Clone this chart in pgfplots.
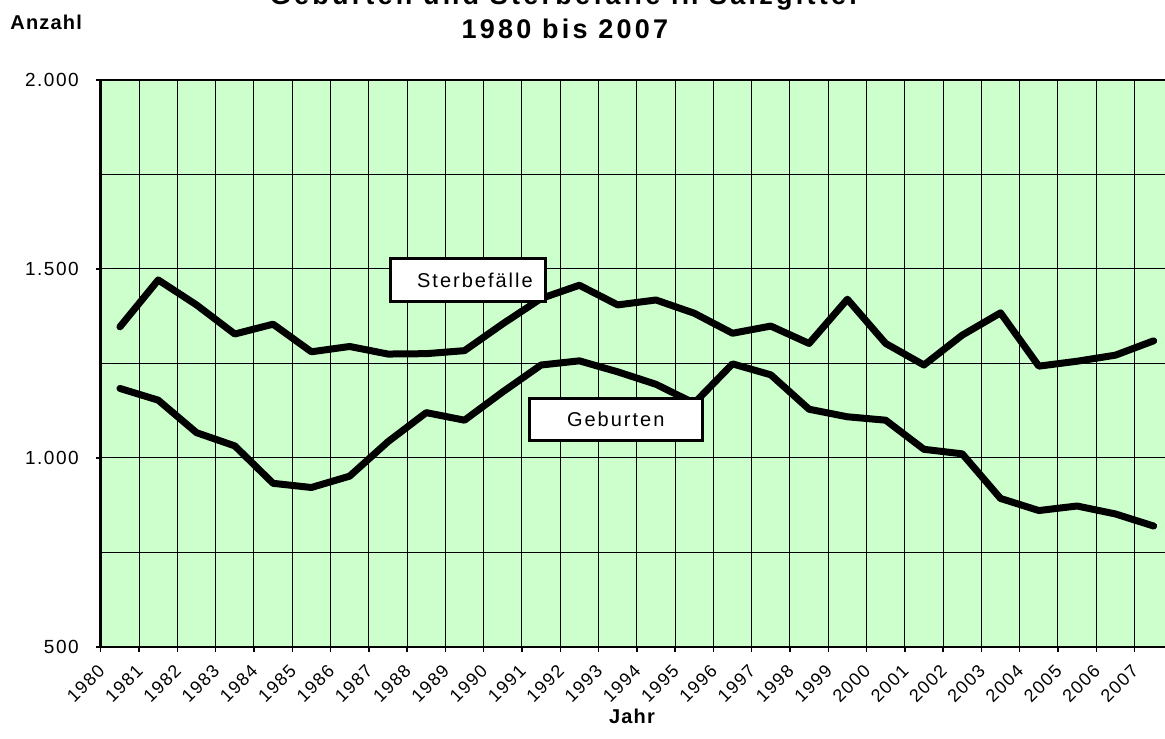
\documentclass[border=0pt]{standalone}
\usepackage{fontspec}
\setmainfont{Liberation Sans}
\newfontfamily\tickfont{Liberation Sans}[LetterSpace=8]
\newfontfamily\boxfont{Liberation Sans}[LetterSpace=10]
\newfontfamily\labelfont{Liberation Sans}[LetterSpace=6]
\newfontfamily\titlefont{Liberation Sans}[LetterSpace=12]
\usepackage{pgfplots}
\usepackage{pgfplotstable}
\pgfplotsset{compat=1.18}
\definecolor{plotbg}{HTML}{CCFFCC}

\pgfplotstableread{
x    ster  geb
0.5  1347  1184
1.5  1471  1153
2.5  1405  1067
3.5  1328  1032
4.5  1354   933
5.5  1281   922
6.5  1295   952
7.5  1275  1043
8.5  1276  1120
9.5  1284  1100
10.5 1355  1175
11.5 1422  1246
12.5 1457  1257
13.5 1405  1228
14.5 1418  1195
15.5 1383  1145
16.5 1330  1249
17.5 1349  1220
18.5 1303  1129
19.5 1420  1109
20.5 1303  1100
21.5 1246  1023
22.5 1325  1011
23.5 1384   893
24.5 1243   861
25.5 1256   873
26.5 1272   852
27.5 1310   820
}\datatable

\begin{document}
\begin{tikzpicture}
\begin{axis}[
  scale only axis,
  width=536pt, height=283.5pt,
  xmin=0, xmax=28, ymin=500, ymax=2000,
  axis background/.style={fill=plotbg},
  xtick={0,...,27},
  xticklabels={1980,1981,1982,1983,1984,1985,1986,1987,1988,1989,1990,1991,1992,1993,1994,1995,1996,1997,1998,1999,2000,2001,2002,2003,2004,2005,2006,2007},
  ytick={500,1000,1500,2000},
  minor ytick={750,1250,1750},
  grid=both,
  major grid style={black, line width=0.5pt},
  minor grid style={black, line width=0.5pt},
  minor tick length=0pt,
  major tick length=2.5pt,
  tick align=outside,
  tick pos=left,
  tick style={black, line width=0.7pt},
  axis line style={line width=1.3pt},
  /pgf/number format/1000 sep={.},
  /pgf/number format/assume math mode=true,
  yticklabel style={font=\tickfont\fontsize{9.5}{11}\selectfont, xshift=-5pt},
  xticklabel shift=4pt,
  xticklabel style={font=\tickfont\fontsize{9}{10}\selectfont, xshift=-2pt, rotate=45, anchor=north east, inner sep=1pt},
]
\addplot[black, line width=3.5pt, line join=round, line cap=round] table[x=x, y=ster] {\datatable};
\addplot[black, line width=3.5pt, line join=round, line cap=round] table[x=x, y=geb] {\datatable};
\node[draw=black, line width=1.5pt, fill=white, minimum width=77.5pt, minimum height=21.5pt, inner sep=0pt, font=\boxfont\fontsize{10}{11}\selectfont] at (axis cs:9.59,1471) {\hspace*{7pt}Sterbefälle};
\node[draw=black, line width=1.5pt, fill=white, minimum width=86.5pt, minimum height=21pt, inner sep=0pt, font=\boxfont\fontsize{10}{11}\selectfont] at (axis cs:13.45,1103) {Geburten};
\end{axis}
\node[anchor=base, font=\titlefont\bfseries\fontsize{13.5}{16}\selectfont] at (232pt,321pt) {Geburten und Sterbefälle in Salzgitter};
\node[anchor=base, font=\titlefont\bfseries\fontsize{13.5}{16}\selectfont] at (232pt,304pt) {1980 bis 2007};
\node[anchor=base west, inner sep=0pt, font=\labelfont\bfseries\fontsize{10}{11}\selectfont] at (-45.4pt,308.5pt) {Anzahl};
\node[anchor=base, inner sep=0pt, font=\labelfont\bfseries\fontsize{10}{11}\selectfont] at (265.6pt,-38pt) {Jahr};
\pgfresetboundingbox
\path[use as bounding box] (-50.4pt,-45.5pt) rectangle (532.1pt,323.5pt);
\end{tikzpicture}
\end{document}
